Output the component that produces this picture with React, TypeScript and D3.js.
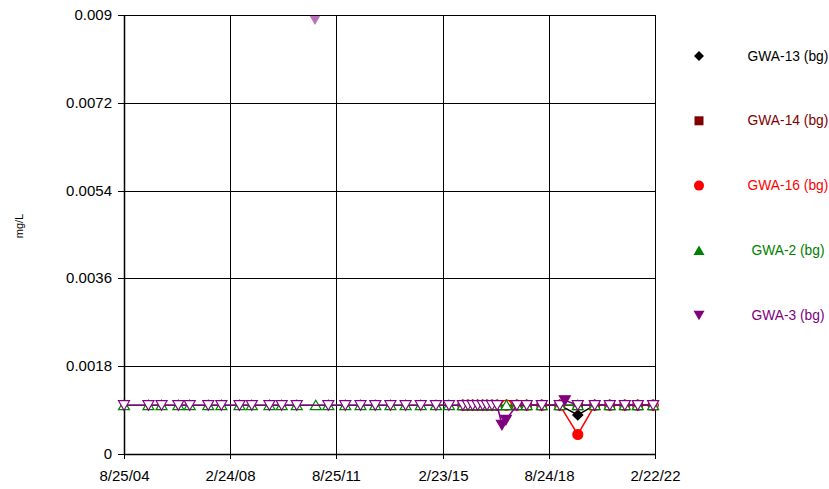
import * as d3 from 'd3';

const font = '"Liberation Sans", Arial, sans-serif';

// sampling dates
const earlyDates = ['2004-08-25', '2005-06-15', '2005-11-20', '2006-06-10', '2006-10-25', '2007-06-05', '2007-11-10', '2008-06-15', '2008-11-10', '2009-06-10', '2009-11-05', '2010-05-05', '2011-05-20', '2011-12-10', '2012-06-10', '2012-12-05', '2013-06-05', '2013-12-05', '2014-06-05', '2014-12-05', '2015-05-10'];
const baselineDates = ['2015-10-25', '2015-12-25', '2016-02-20', '2016-04-20', '2016-06-20', '2016-08-10', '2016-10-10', '2016-12-10'];
const laterDates = ['2017-04-01', '2017-08-05', '2017-12-01', '2018-06-01', '2019-01-03', '2019-08-08', '2020-02-28', '2020-08-27', '2021-02-24', '2021-07-30', '2022-01-30'];

// values (0.001 = non-detect at reporting limit)
const gwa13Values = [0.001, 0.001, 0.001, 0.001, 0.001, 0.001, 0.001, 0.001, 0.001, 0.001, 0.001, 0.001, 0.001, 0.0008, 0.001, 0.001, 0.001, 0.001, 0.001];
const gwa14Values = [0.001, 0.001, 0.001, 0.001, 0.001, 0.001, 0.001, 0.001, 0.001, 0.001, 0.001, 0.001, 0.001, 0.001, 0.001, 0.001, 0.001, 0.001, 0.001];
const gwa16Values = [0.001, 0.001, 0.001, 0.001, 0.001, 0.001, 0.001, 0.001, 0.001, 0.001, 0.001, 0.001, 0.001, 0.0004, 0.001, 0.001, 0.001, 0.001, 0.001];
const gwa2Dates = [...earlyDates.slice(0, 12), '2010-12-20', ...earlyDates.slice(12), ...baselineDates, ...laterDates];
const gwa3Dates = [...earlyDates, ...baselineDates, '2017-02-06', '2017-03-25', ...laterDates.slice(1, 5), '2019-03-05', ...laterDates.slice(5)];
const gwa3Values = [...earlyDates.map(() => 0.001), ...baselineDates.map(() => 0.001), 0.0006, 0.0007, 0.001, 0.001, 0.001, 0.001, 0.0011, 0.001, 0.001, 0.001, 0.001, 0.001, 0.001];
const gwa3OutlierDate = '2010-12-10';
const gwa3OutlierValue = 0.0089;

const yTicks = [0, 0.0018, 0.0036, 0.0054, 0.0072, 0.009];
const xTickDates = ['2004-08-25', '2008-02-24', '2011-08-25', '2015-02-23', '2018-08-24', '2022-02-22'];
const xTickLabels = ['8/25/04', '2/24/08', '8/25/11', '2/23/15', '8/24/18', '2/22/22'];

const nd = 0.001;
const parse = d3.timeParse('%Y-%m-%d');

type Pt = { date: Date; v: number };
const ccrDates = [...baselineDates, ...laterDates];
const mk = (dates: string[], vals: number[]): Pt[] => dates.map((d, i) => ({ date: parse(d) as Date, v: vals[i] }));

const series = [
  { name: 'GWA-13 (bg)', color: '#000000', text: '#000000', shape: 'diamond', data: mk(ccrDates, gwa13Values) },
  { name: 'GWA-14 (bg)', color: '#800000', text: '#800000', shape: 'square', data: mk(ccrDates, gwa14Values) },
  { name: 'GWA-16 (bg)', color: '#ff0000', text: '#ff0000', shape: 'circle', data: mk(ccrDates, gwa16Values) },
  { name: 'GWA-2 (bg)', color: '#008000', text: '#008000', shape: 'up', data: mk(gwa2Dates, gwa2Dates.map(() => nd)) },
  { name: 'GWA-3 (bg)', color: '#800080', text: '#800080', shape: 'down', data: mk(gwa3Dates, gwa3Values) },
];

function markerPath(shape: string): string {
  switch (shape) {
    case 'diamond': return 'M0,-5L5,0L0,5L-5,0Z';
    case 'square': return 'M-4.5,-4.5H4.5V4.5H-4.5Z';
    case 'circle': return 'M5,0A5,5 0 1,1 -5,0A5,5 0 1,1 5,0Z';
    case 'up': return 'M0,-5L5.5,4.5L-5.5,4.5Z';
    default: return 'M0,5L5.5,-4.5L-5.5,-4.5Z';
  }
}

export default function App() {
  const width = 829, height = 489;
  const left = 124, right = 655, top = 15, bottom = 454;

  const x = d3.scaleTime()
    .domain([parse('2004-08-25') as Date, parse('2022-02-22') as Date])
    .range([left, right]);
  const y = d3.scaleLinear().domain([0, 0.009]).range([bottom, top]);

  const line = d3.line<Pt>().x(d => x(d.date)).y(d => y(d.v));

  return (
    <svg width={width} height={height} style={{ position: 'absolute', left: 0, top: 0, background: '#fff' }} fontFamily={font}>
      {/* grid */}
      {yTicks.map(t => (
        <g key={'y' + t}>
          <line x1={left - 6} x2={right} y1={Math.round(y(t)) + 0.5} y2={Math.round(y(t)) + 0.5} stroke="#000" strokeWidth={1} />
          <text x={112} y={y(t) + 5} textAnchor="end" fontSize={15} fill="#000">{t === 0 ? '0' : String(t)}</text>
        </g>
      ))}
      {xTickDates.map((d, i) => {
        const px = Math.round(x(parse(d) as Date)) + 0.5;
        return (
          <g key={'x' + d}>
            <line x1={px} x2={px} y1={top} y2={bottom + 5} stroke="#000" strokeWidth={1} />
            <text x={px} y={481} textAnchor="middle" fontSize={15} fill="#000">{xTickLabels[i]}</text>
          </g>
        );
      })}
      <line x1={left} x2={right} y1={bottom + 0.5} y2={bottom + 0.5} stroke="#000" strokeWidth={1.5} />
      <line x1={left + 0.5} x2={left + 0.5} y1={top} y2={bottom} stroke="#000" strokeWidth={1.5} />

      <text transform="translate(23,226) rotate(-90)" textAnchor="middle" fontSize={11} fill="#000">mg/L</text>

      {/* series */}
      {series.map(s => (
        <g key={s.name}>
          <path d={line(s.data) || ''} fill="none" stroke={s.color} strokeWidth={1.5} />
          {s.data.map((p, i) => (
            <path key={i} d={markerPath(s.shape)} transform={`translate(${x(p.date)},${y(p.v)})`}
              fill={p.v === nd ? '#fff' : s.color} stroke={s.color} strokeWidth={1.2} />
          ))}
        </g>
      ))}
      <path d={markerPath('down')} transform={`translate(${x(parse(gwa3OutlierDate) as Date)},${y(gwa3OutlierValue)})`}
        fill="#800080" opacity={0.55} />

      {/* legend */}
      {series.map((s, i) => (
        <g key={'l' + s.name} transform={`translate(0,${56 + i * 64.8})`}>
          <path d={markerPath(s.shape)} transform="translate(699,0)" fill={s.color} />
          <text x={788} y={4.5} textAnchor="middle" fontSize={13.8} fill={s.text}>{s.name}</text>
        </g>
      ))}
    </svg>
  );
}
